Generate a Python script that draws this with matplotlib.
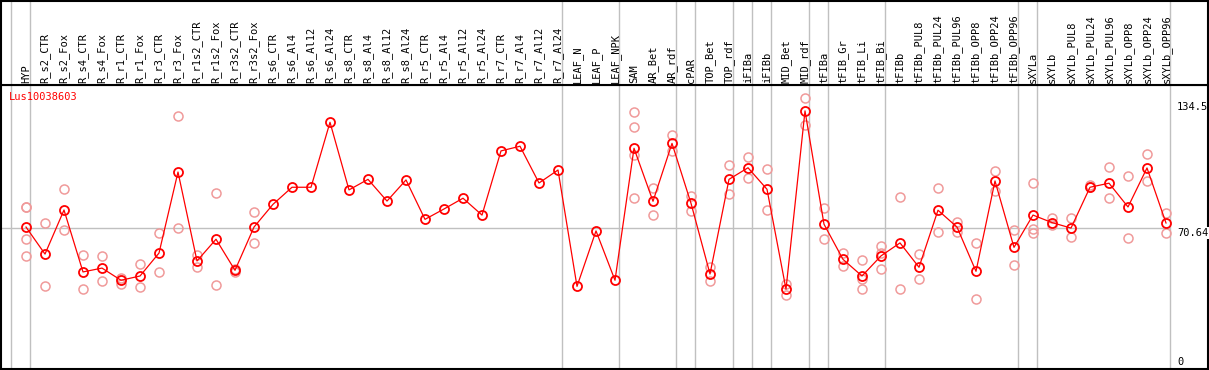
import matplotlib
matplotlib.use("Agg")
import matplotlib.pyplot as plt

plt.rcParams['font.family'] = 'DejaVu Sans Mono'

gene = 'Lus10038603'

samples = ['HYP', 'R_s2_CTR', 'R_s2_Fox', 'R_s4_CTR', 'R_s4_Fox', 'R_r1_CTR', 'R_r1_Fox',
           'R_r3_CTR', 'R_r3_Fox', 'R_r1s2_CTR', 'R_r1s2_Fox', 'R_r3s2_CTR', 'R_r3s2_Fox',
           'R_s6_CTR', 'R_s6_Al4', 'R_s6_Al12', 'R_s6_Al24', 'R_s8_CTR', 'R_s8_Al4',
           'R_s8_Al12', 'R_s8_Al24', 'R_r5_CTR', 'R_r5_Al4', 'R_r5_Al12', 'R_r5_Al24',
           'R_r7_CTR', 'R_r7_Al4', 'R_r7_Al12', 'R_r7_Al24', 'LEAF_N', 'LEAF_P', 'LEAF_NPK',
           'SAM', 'AR_Bet', 'AR_rdf', 'cPAR', 'TOP_Bet', 'TOP_rdf', 'iFIBa', 'iFIBb',
           'MID_Bet', 'MID_rdf', 'tFIBa', 'tFIB_Gr', 'tFIB_Li', 'tFIB_Bi', 'tFIBb',
           'tFIBb_PUL8', 'tFIBb_PUL24', 'tFIBb_PUL96', 'tFIBb_OPP8', 'tFIBb_OPP24',
           'tFIBb_OPP96', 'sXYLa', 'sXYLb', 'sXYLb_PUL8', 'sXYLb_PUL24', 'sXYLb_PUL96',
           'sXYLb_OPP8', 'sXYLb_OPP24', 'sXYLb_OPP96']

means = [71.1, 57.8, 79.5, 49.0, 50.9, 44.9, 47.0, 58.3, 98.2, 54.4, 65.1, 49.8, 71.1,
         82.3, 90.7, 90.7, 122.7, 89.4, 94.6, 83.9, 94.3, 74.9, 80.0, 85.3, 77.0,
         108.6, 110.9, 92.8, 99.2, 41.9, 69.2, 44.9,
         109.9, 83.8, 112.3, 82.8, 48.0, 94.6, 100.3, 89.7, 40.5, 128.3,
         72.5, 55.2, 47.0, 56.9, 63.3, 51.3, 79.4, 71.1, 49.3, 93.8, 61.1,
         77.0, 73.3, 70.6, 90.7, 92.7, 81.0, 100.2, 73.1]

replicates = [
    [81.2, 81.0, 65.2, 56.9], [73.0, 42.1], [89.8, 69.7], [57.3, 40.5], [56.9, 44.5],
    [46.2, 43.2], [52.9, 41.4], [68.0, 49.0], [125.6, 70.6], [57.3, 51.3],
    [87.9, 42.4], [50.5, 49.0], [78.5, 63.1],
    [], [], [], [], [], [], [], [], [], [], [], [], [], [], [], [], [], [], [],
    [127.6, 120.4, 106.4, 85.3], [90.2, 76.9], [116.4, 108.7], [86.3, 78.9],
    [51.3, 44.7], [101.7, 87.2], [105.6, 95.4], [99.5, 79.4], [43.2, 37.8],
    [134.5, 121.4], [80.5, 65.1], [58.3, 51.8], [54.7, 45.4, 40.5],
    [61.8, 58.3, 50.3], [85.9, 40.5], [57.8, 45.4], [90.3, 68.5], [73.7, 68.8],
    [63.1, 35.5], [98.7, 88.9], [69.5, 52.4], [92.8, 70.1, 68.0], [75.4, 72.1],
    [75.6, 66.1], [91.8, 91.0], [100.7, 85.3], [96.2, 65.7], [107.1, 93.6],
    [78.2, 68.0]]

# group separators sit just right of these sample indices
separators = [-1, 0, 28, 31, 34, 35, 37, 38, 39, 41, 42, 45, 52, 53, 60]

y_max = 134.5
y_ref = 70.64

W, H = 1209, 370
fig = plt.figure(figsize=(W / 100, H / 100), dpi=100)

x0 = (1 - 26) / 19
x1 = (1208 - 26) / 19
ax = fig.add_axes([1 / W, 1 / H, 1207 / W, 284 / H])
hd = fig.add_axes([1 / W, 285 / H, 1207 / W, 84 / H], sharex=ax)

ax.set_xlim(x0, x1)
ax.set_ylim(1.21, 141.05)
hd.set_ylim(0, 1)

for a in (ax, hd):
    a.set_xticks([])
    a.set_yticks([])
    for s in a.spines.values():
        s.set_color('black')
        s.set_linewidth(1.5)
    for sep in separators:
        a.axvline(sep + 0.21, color='#c0c0c0', lw=1, zorder=0)

ax.hlines(y_ref, x0, 60.21, color='#c0c0c0', lw=1, zorder=0)

xs = list(range(len(samples)))
for i, reps in enumerate(replicates):
    ax.plot([i] * len(reps), reps, 'o', ms=6.5, mfc='none', mec='#f09a9a', mew=1.1, zorder=2)
ax.plot(xs, means, '-', color='red', lw=0.9, zorder=3)
ax.plot(xs, means, 'o', ms=6.5, mfc='none', mec='red', mew=1.3, zorder=4)

for i, lab in enumerate(samples):
    hd.text(i, 0.025, lab, rotation=90, ha='center', va='bottom', fontsize=7.5)

ax.text(0.0065, 0.975, gene, transform=ax.transAxes, ha='left', va='top',
        fontsize=7.5, color='red')

xl = (1177 - 26) / 19
ax.text(xl, 130.2, str(y_max), ha='left', va='center', fontsize=7.5)
ax.text(xl, 68.2, str(y_ref), ha='left', va='center', fontsize=7.5,
        bbox=dict(facecolor='white', edgecolor='none', pad=0.5))
ax.text(xl, 4.66, '0', ha='left', va='center', fontsize=7.5)

fig.savefig('out.png', dpi=100)
